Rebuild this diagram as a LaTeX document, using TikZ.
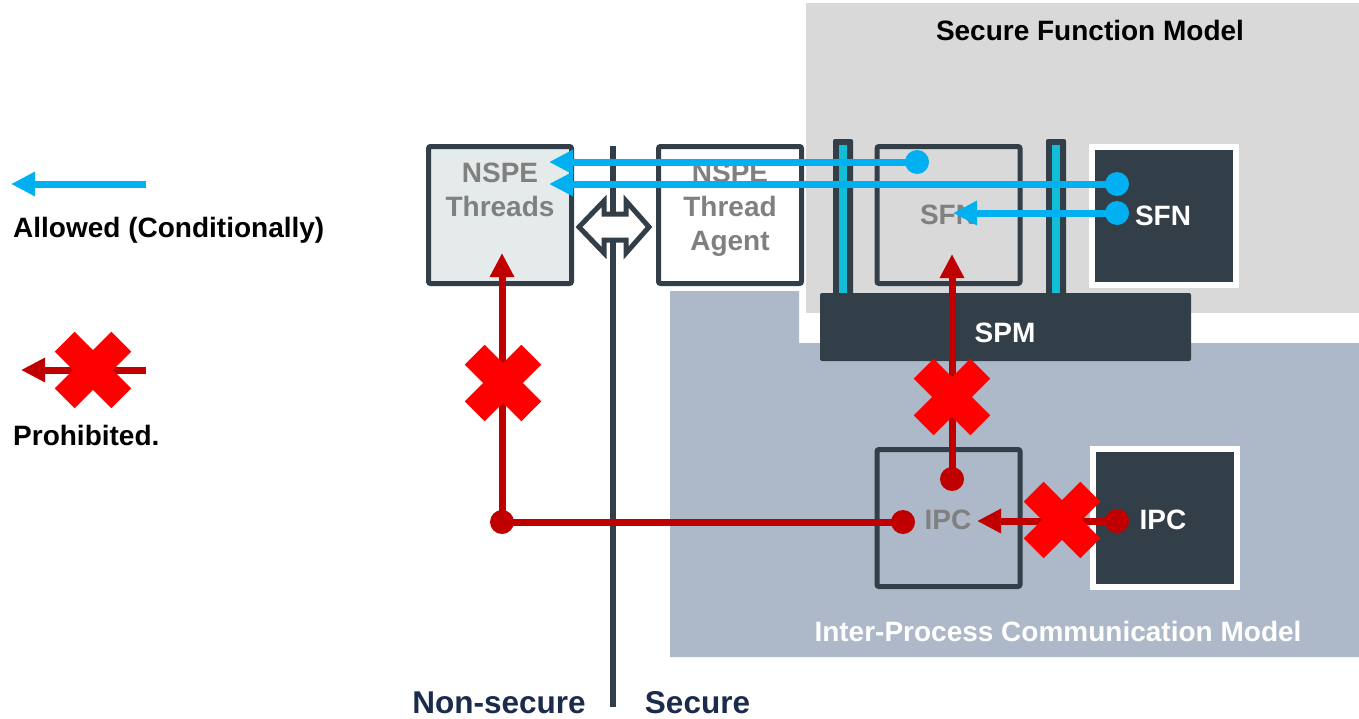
\documentclass[tikz,border=0pt]{standalone}
\usepackage{fontspec}
\setmainfont{Liberation Sans}
\usetikzlibrary{arrows.meta}
\definecolor{sfmgray}{HTML}{D9D9D9}
\definecolor{ipcblue}{HTML}{ADB8C9}
\definecolor{slate}{HTML}{323E48}
\definecolor{labelgray}{HTML}{808080}
\definecolor{okblue}{HTML}{00B0F0}
\definecolor{gatecyan}{HTML}{12BDD8}
\definecolor{badred}{HTML}{C00000}
\definecolor{crossred}{HTML}{FF0000}
\definecolor{navy}{HTML}{1B2B4B}
\definecolor{threadfill}{HTML}{E5EAEB}
\begin{document}
\begin{tikzpicture}[x=1pt,y=-1pt,
  txt/.style={font=\fontsize{28}{34}\selectfont\bfseries, inner sep=0pt},
  side/.style={font=\fontsize{31.5}{36}\selectfont\bfseries, inner sep=0pt, text=navy, anchor=base},
  panel/.style={draw=slate, line width=5pt, rounded corners=2pt,
    minimum width=143pt, minimum height=137pt, inner sep=0pt},
  darkpanel/.style={draw=white, fill=slate, line width=6pt,
    minimum width=144pt, minimum height=138pt, inner sep=0pt},
  allowed/.style={draw=okblue, line width=7pt, -{Triangle[length=24pt,width=23pt]}},
  denied/.style={draw=badred, line width=7pt, -{Triangle[length=24pt,width=23pt]}},
  nogo/.pic={
    \fill[crossred, rotate=45] (-40,-14) rectangle (40,14);
    \fill[crossred, rotate=-45] (-40,-14) rectangle (40,14);
  }
]
\useasboundingbox (0,0) rectangle (1359,718);

% model areas
\fill[sfmgray] (806,3) rectangle (1359,313);
\fill[ipcblue] (670,291) -- (799,291) -- (799,343) -- (1359,343)
  -- (1359,657) -- (670,657) -- cycle;

% non-secure / secure boundary
\coordinate (wallTop) at (613,146);
\coordinate (wallBot) at (613,707);
\draw[slate, line width=6pt] (wallTop) -- (wallBot);

% partitions
\node[panel, fill=threadfill] (nspe) at (500,215) {};
\node[panel, fill=white] (agent) at (730,215) {};
\node[panel] (sfnin) at (948.5,215) {};
\node[darkpanel] (sfnout) at (1164,216) {};
\node[panel] (ipcin) at (948.5,518) {};
\node[darkpanel] (ipcout) at (1164.5,518) {};

% isolation barriers
\foreach \bx in {843,1056} {
  \fill[slate, rounded corners=2pt] (\bx-10,139) rectangle (\bx+10,305);
  \fill[gatecyan] (\bx-4,145) rectangle (\bx+4,305);
}

% partition manager
\node[fill=slate, rounded corners=2pt, minimum width=371pt, minimum height=68pt,
  inner sep=0pt] (spm) at (1005.5,327) {};

% NS <-> S transition
\draw[slate, line width=5pt, fill=white, line join=miter]
  (579,227) -- (604,201) -- (604,214) -- (626,214) -- (626,201) -- (649,227)
  -- (626,253) -- (626,240) -- (604,240) -- (604,253) -- cycle;

% labels
\node[txt, text=black, anchor=base] (sfmT) at (1090,40) {Secure Function Model};
\node[txt, text=labelgray, align=center, anchor=north] (nspeT) at (500,163) {NSPE\\Threads};
\node[txt, text=labelgray, align=center, anchor=north] (agentT) at (730,163) {NSPE\\Thread\\Agent};
\node[txt, text=labelgray, anchor=base] (sfninT) at (948,224) {SFN};
\node[txt, text=white, anchor=base] (sfnoutT) at (1163,225) {SFN};
\node[txt, text=white, anchor=base] (spmT) at (1005,342) {SPM};
\node[txt, text=labelgray, anchor=base] (ipcinT) at (948,529) {IPC};
\node[txt, text=white, anchor=base] (ipcoutT) at (1163,529) {IPC};
\node[txt, text=white, anchor=base] (ipcmT) at (1058,641) {Inter-Process Communication Model};
\node[txt, text=black, anchor=base west] (okT) at (13,237) {Allowed (Conditionally)};
\node[txt, text=black, anchor=base west] (noT) at (13,445) {Prohibited.};
\node[side] (nsT) at (499,713) {Non-secure};
\node[side] (sT) at (697.5,713) {Secure};

% allowed calls
\coordinate (a1s) at (917,162);  \coordinate (a1t) at (549,162);
\coordinate (a2s) at (1117,184); \coordinate (a2t) at (549,184);
\coordinate (a3s) at (1117,213); \coordinate (a3t) at (953,213);
\draw[allowed] (a1s) -- (a1t);
\draw[allowed] (a2s) -- (a2t);
\draw[allowed] (a3s) -- (a3t);
\foreach \p in {a1s,a2s,a3s} \fill[okblue] (\p) circle (12pt);

% prohibited calls
\coordinate (r1s) at (502,522);  \coordinate (r1t) at (502,253);
\coordinate (r1e) at (903,522);
\coordinate (r2s) at (952,479);  \coordinate (r2t) at (952,254);
\coordinate (r3s) at (1117,521); \coordinate (r3t) at (977,521);
\draw[denied] (r1s) -- (r1t);
\draw[badred, line width=7pt] (r1s) -- (r1e);
\draw[denied] (r2s) -- (r2t);
\draw[denied] (r3s) -- (r3t);
\foreach \p in {r1s,r1e,r2s,r3s} \fill[badred] (\p) circle (12pt);
\pic at (503,383) {nogo};
\pic at (952,397) {nogo};
\pic at (1062,520) {nogo};

% legend
\coordinate (lgOs) at (146,184); \coordinate (lgOt) at (11,184);
\coordinate (lgNs) at (146,370); \coordinate (lgNt) at (21,370);
\draw[allowed] (lgOs) -- (lgOt);
\draw[denied] (lgNs) -- (lgNt);
\pic at (93,370) {nogo};
\end{tikzpicture}
\end{document}
